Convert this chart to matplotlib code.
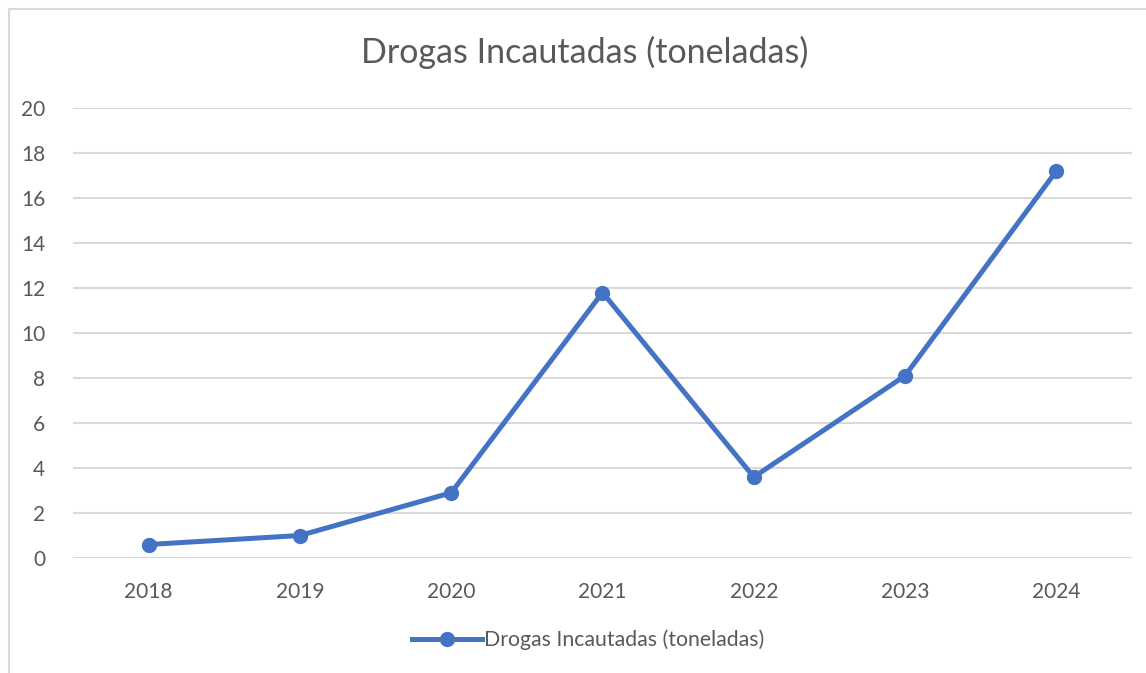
import matplotlib.pyplot as plt
from matplotlib.lines import Line2D

# Data
years = ['2018', '2019', '2020', '2021', '2022', '2023', '2024']
toneladas = [0.6, 1.0, 2.9, 11.8, 3.6, 8.1, 17.2]
series_name = 'Drogas Incautadas (toneladas)'
y_ticks = [0, 2, 4, 6, 8, 10, 12, 14, 16, 18, 20]

plt.rcParams['font.family'] = ['Lato', 'DejaVu Sans']
text_color = '#595959'
grid_color = '#d9d9d9'
line_color = '#4472C4'

W, H = 1146, 673
fig = plt.figure(figsize=(W / 100, H / 100), dpi=100)

# chart area border (left and top visible)
fig.add_artist(Line2D([9 / W, 9 / W], [0, 1 - 9 / H], color=grid_color, lw=1.5))
fig.add_artist(Line2D([9 / W, 1], [1 - 9 / H, 1 - 9 / H], color=grid_color, lw=1.5))

ax = fig.add_axes([73 / W, 1 - 558 / H, (1132 - 73) / W, (558 - 108) / H])
x = list(range(len(years)))
ax.plot(x, toneladas, color=line_color, lw=3.6, marker='o', markersize=10,
        solid_capstyle='round', label=series_name)

ax.set_xlim(-0.5, len(years) - 0.5)
ax.set_ylim(0, 20)
ax.set_yticks(y_ticks)
ax.set_xticks(x)
ax.set_xticklabels(years)
ax.yaxis.grid(True, color=grid_color, lw=1.5)
ax.set_axisbelow(True)
for s in ax.spines.values():
    s.set_visible(False)
ax.tick_params(length=0, labelsize=15, colors=text_color)
ax.tick_params(axis='y', pad=20)
ax.tick_params(axis='x', pad=17)

fig.text(585 / W, 1 - 52 / H, 'Drogas Incautadas (toneladas)', ha='center', va='center',
         fontsize=24.5, color=text_color)

fig.legend(handles=[Line2D([], [], color=line_color, lw=3.6, marker='o', markersize=10)],
           labels=[series_name], loc='center', bbox_to_anchor=(588 / W, 1 - 640 / H),
           frameon=False, fontsize=15.3, labelcolor=text_color, handlelength=3.3,
           handletextpad=0.1)

fig.savefig('out.png', dpi=100)
